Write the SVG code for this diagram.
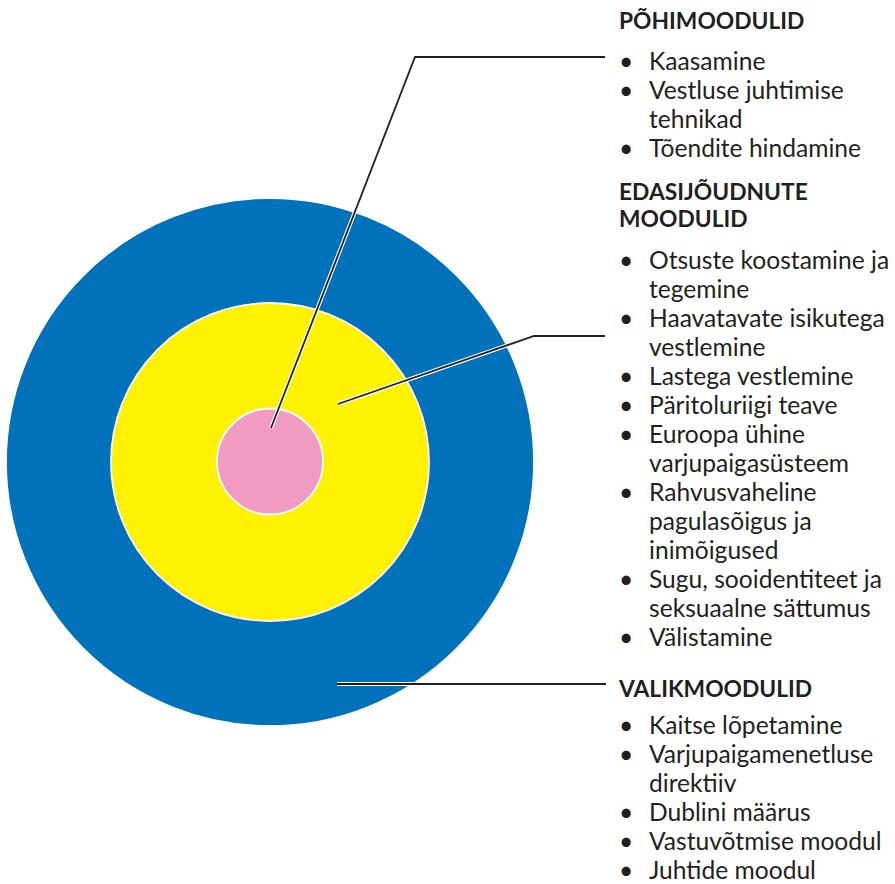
<svg xmlns="http://www.w3.org/2000/svg" width="895" height="884" viewBox="0 0 895 884">
<style>
.t{font-family:Lato,"Liberation Sans",sans-serif;font-size:24.6px;fill:#231f20}
.h{font-family:Lato,"Liberation Sans",sans-serif;font-size:22.8px;font-weight:bold;fill:#231f20}
.halo{fill:none;stroke:#fff;stroke-width:4;stroke-linejoin:miter}
.ln{fill:none;stroke:#231f20;stroke-width:1.8;stroke-linejoin:miter}
.ring{stroke:#fff;stroke-width:1.8}
</style>
<rect width="895" height="884" fill="#fff"/>
<g id="outer"><circle class="ring" cx="270" cy="462" r="264" fill="#0071bb"/></g>
<g id="middle"><circle class="ring" cx="270" cy="462" r="159" fill="#fff200"/></g>
<g id="inner"><circle class="ring" cx="270" cy="461.5" r="53" fill="#f29bc2"/></g>
<g id="connectors">
<polyline class="halo" points="271,428 415,57 605,57"/>
<polyline class="halo" points="338,404 534,336 605,336"/>
<polyline class="halo" points="337,684 606,684"/>
<polyline class="ln" points="271,428 415,57 605,57"/>
<polyline class="ln" points="338,404 534,336 605,336"/>
<polyline class="ln" points="337,684 606,684"/>
</g>
<g id="label-pohi">
<text class="h" x="619" y="29">PÕHIMOODULID</text>
<text class="t" x="619" y="70">•</text><text class="t" x="649" y="70">Kaasamine</text>
<text class="t" x="619" y="99">•</text><text class="t" x="649" y="99">Vestluse juhtimise</text>
<text class="t" x="649" y="128">tehnikad</text>
<text class="t" x="619" y="157">•</text><text class="t" x="649" y="157">Tõendite hindamine</text>
</g>
<g id="label-edasi">
<text class="h" x="619" y="200">EDASIJÕUDNUTE</text>
<text class="h" x="619" y="227">MOODULID</text>
<text class="t" x="619" y="269">•</text><text class="t" x="649" y="269">Otsuste koostamine ja</text>
<text class="t" x="649" y="298">tegemine</text>
<text class="t" x="619" y="327">•</text><text class="t" x="649" y="327">Haavatavate isikutega</text>
<text class="t" x="649" y="356">vestlemine</text>
<text class="t" x="619" y="385">•</text><text class="t" x="649" y="385">Lastega vestlemine</text>
<text class="t" x="619" y="414">•</text><text class="t" x="649" y="414">Päritoluriigi teave</text>
<text class="t" x="619" y="443">•</text><text class="t" x="649" y="443">Euroopa ühine</text>
<text class="t" x="649" y="472">varjupaigasüsteem</text>
<text class="t" x="619" y="501">•</text><text class="t" x="649" y="501">Rahvusvaheline</text>
<text class="t" x="649" y="530">pagulasõigus ja</text>
<text class="t" x="649" y="559">inimõigused</text>
<text class="t" x="619" y="588">•</text><text class="t" x="649" y="588">Sugu, sooidentiteet ja</text>
<text class="t" x="649" y="617">seksuaalne sättumus</text>
<text class="t" x="619" y="646">•</text><text class="t" x="649" y="646">Välistamine</text>
</g>
<g id="label-valik">
<text class="h" x="619" y="697">VALIKMOODULID</text>
<text class="t" x="619" y="734">•</text><text class="t" x="649" y="734">Kaitse lõpetamine</text>
<text class="t" x="619" y="763">•</text><text class="t" x="649" y="763">Varjupaigamenetluse</text>
<text class="t" x="649" y="792">direktiiv</text>
<text class="t" x="619" y="821">•</text><text class="t" x="649" y="821">Dublini määrus</text>
<text class="t" x="619" y="850">•</text><text class="t" x="649" y="850">Vastuvõtmise moodul</text>
<text class="t" x="619" y="879">•</text><text class="t" x="649" y="879">Juhtide moodul</text>
</g>
</svg>
